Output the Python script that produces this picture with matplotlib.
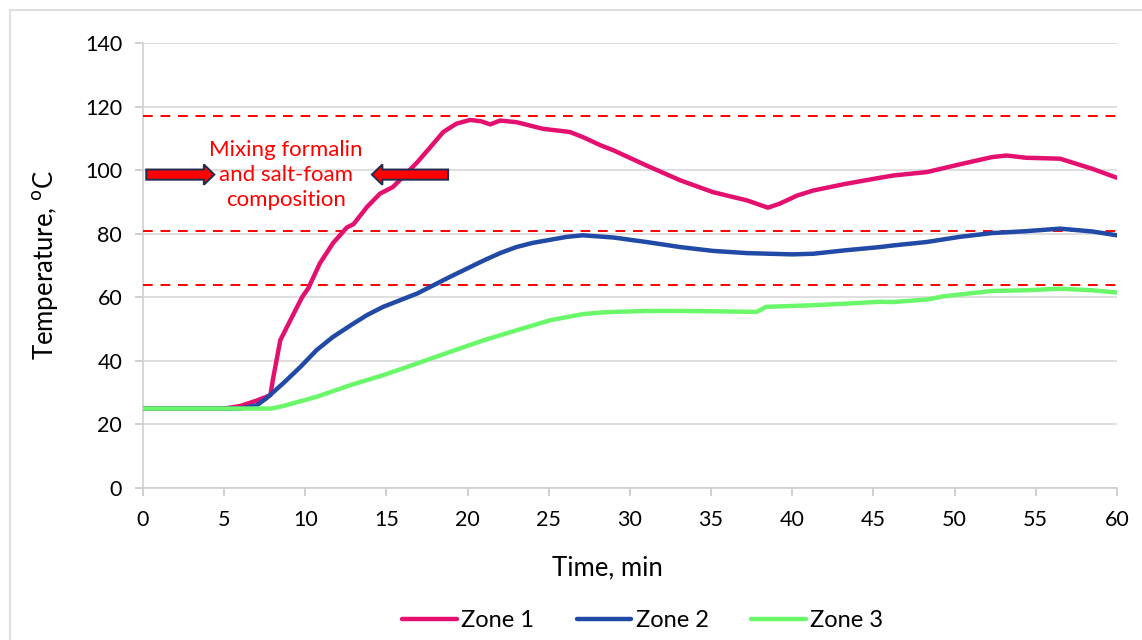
import matplotlib.pyplot as plt
from matplotlib.patches import Rectangle, FancyArrow
import numpy as np

# readings
t1 = [0, 5, 6, 7, 7.85, 8.0, 8.46, 9.08, 9.8, 10.2, 10.9, 11.7, 12.57, 12.97, 13.8, 14.6,
      15.4, 16.0, 16.9, 17.7, 18.5, 19.3, 20.15, 20.8, 21.4, 22.0, 23.0, 24.65, 26.3, 27.1,
      28.2, 29.0, 31.0, 33.1, 35.1, 37.2, 38.5, 39.2, 40.3, 41.3, 43.3, 45.4, 46.2, 48.3,
      50.3, 52.3, 53.2, 54.4, 56.5, 58.5, 60]
zone1 = [25, 25, 25.8, 27.5, 29.2, 34, 46.5, 52.8, 60, 63, 70.7, 77, 82, 83, 88.4, 92.6,
         94.7, 97.8, 102.5, 107.2, 112, 114.6, 115.8, 115.4, 114.4, 115.6, 115.1, 113, 112, 110.4,
         107.8, 106.2, 101.5, 96.8, 93.1, 90.5, 88.2, 89.4, 92, 93.6, 95.7, 97.6, 98.3, 99.4,
         101.8, 104.1, 104.6, 103.9, 103.6, 100.4, 97.6]

t2 = [0, 6, 7, 7.6, 8.65, 9.7, 10.7, 11.7, 12.8, 13.8, 14.8, 15.8, 16.9, 17.9, 18.9, 19.95,
      21.0, 22.0, 23.0, 24.0, 25.1, 26.1, 27.1, 29.0, 31.0, 33.1, 35.1, 37.2, 40.0, 41.3,
      43.3, 45.4, 46.2, 48.3, 50.3, 52.3, 54.4, 56.5, 58.5, 60]
zone2 = [25, 25, 26, 28.2, 33, 38.1, 43.4, 47.5, 51.2, 54.4, 57, 59, 61.2, 63.8, 66.4, 69,
         71.6, 73.9, 75.8, 77.1, 78.1, 79, 79.5, 78.8, 77.4, 75.8, 74.6, 73.9, 73.5, 73.7,
         74.8, 75.8, 76.3, 77.4, 79, 80.2, 80.8, 81.6, 80.7, 79.5]

t3 = [0, 7.9, 8.65, 10.7, 12.8, 14.8, 16.9, 18.9, 21.0, 23.0, 25.1, 27.1, 28.2, 29.0, 31.0,
      33.1, 35.1, 37.8, 38.4, 41.3, 43.3, 45.4, 46.2, 48.3, 49.3, 52.3, 54.4, 56.5, 58.5, 60]
zone3 = [25, 25, 25.8, 28.7, 32.4, 35.5, 39.2, 42.8, 46.5, 49.6, 52.8, 54.7, 55.2, 55.4, 55.7,
         55.7, 55.6, 55.4, 57, 57.5, 58, 58.6, 58.5, 59.3, 60.3, 62, 62.2, 62.7, 62.2, 61.5]

limits = [117, 81, 64]
note = "Mixing formalin\nand salt-foam\ncomposition"

plt.rcParams['font.family'] = ['Lato', 'DejaVu Sans']

fig = plt.figure(figsize=(11.42, 6.4), dpi=100)
ax = fig.add_axes([0.1252, 0.2375, 0.8528, 0.6953])

# thin grey frame around the chart area
fig.patches.append(Rectangle((10 / 1142, -0.1), 1.2, 1.1 - 10 / 640,
                             transform=fig.transFigure, fill=False,
                             edgecolor='#d9d9d9', linewidth=1.2, clip_on=False))

ax.plot(t1, zone1, color='#E3106F', lw=3.2, solid_capstyle='round', label='Zone 1', zorder=4)
ax.plot(t2, zone2, color='#2149A6', lw=3.2, solid_capstyle='round', label='Zone 2', zorder=4)
ax.plot(t3, zone3, color='#6AF86A', lw=3.2, solid_capstyle='round', label='Zone 3', zorder=4)

for v in limits:
    ax.axhline(v, color='#FF0000', lw=1.4, ls=(0, (5, 4)), zorder=3)

ax.text(8.8, 98.4, note, color='#FF0000', fontsize=16, ha='center', va='center',
        linespacing=1.3, zorder=5)

for x0, dx in [(0.2, 4.2), (18.8, -4.7)]:
    ax.add_patch(FancyArrow(x0, 98.6, dx, 0, width=3.2, head_width=6.4, head_length=0.65,
                            length_includes_head=True, facecolor='#FF0000',
                            edgecolor='#1F2D4F', linewidth=1.4, zorder=6))

ax.set_xlim(0, 60)
ax.set_ylim(0, 140)
ax.set_xticks(np.arange(0, 61, 5))
ax.set_yticks(np.arange(0, 141, 20))
ax.grid(axis='y', color='#d9d9d9', lw=1.2)
ax.set_axisbelow(True)
for s in ['top', 'right']:
    ax.spines[s].set_visible(False)
for s in ['left', 'bottom']:
    ax.spines[s].set_color('#d0d0d0')
    ax.spines[s].set_linewidth(1.2)
ax.tick_params(axis='both', colors='#c8c8c8', length=6, width=1.2, labelsize=15.5,
               labelcolor='black')
ax.tick_params(axis='x', pad=10)
ax.tick_params(axis='y', pad=9)
ax.set_xlabel('Time, min', fontsize=18.5)
ax.xaxis.set_label_coords(0.477, -0.152)
ax.set_ylabel('Temperature, $^{\\mathrm{o}}$C', fontsize=18.5, labelpad=18)

fig.legend(loc='center', bbox_to_anchor=(0.563, 0.03), ncol=3, frameon=False, fontsize=17,
           handlelength=2.3, handletextpad=0.2, columnspacing=1.8)

fig.savefig('out.png', dpi=100)
